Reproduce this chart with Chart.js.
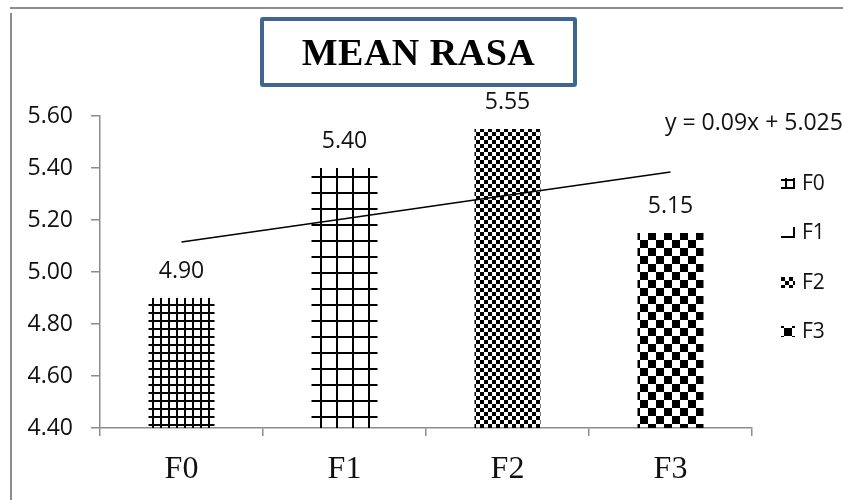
<!DOCTYPE html>
<html>
<head>
<meta charset="utf-8">
<title>MEAN RASA</title>
<script src="https://cdn.jsdelivr.net/npm/chart.js@4.4.1/dist/chart.umd.min.js"></script>
<style>
    body { margin: 0; background: #fff; }
    #wrap { position: relative; width: 843px; height: 500px; overflow: hidden; }
    #frame-top { position: absolute; left: 10px; top: 7px; width: 840px; height: 0; border-top: 2px solid #8c8c8c; }
    #frame-left { position: absolute; left: 10px; top: 13px; width: 0; height: 500px; border-left: 2px solid #8c8c8c; }
    #title-box {
        position: absolute; left: 260px; top: 17px; width: 309px; height: 62px;
        border: 4px solid #41658f; border-radius: 3px;
        display: flex; align-items: center; justify-content: center;
        font: bold 38px "Liberation Serif", serif; color: #000; letter-spacing: 0.5px;
    }
</style>
</head>
<body>
<div id="wrap">
    <div id="frame-top"></div>
    <div id="frame-left"></div>
    <canvas id="rasaChart" width="843" height="500"></canvas>
    <div id="title-box">MEAN RASA</div>
</div>
<script>
// ===== Chart Data =====
const categories = ['F0', 'F1', 'F2', 'F3'];
const meanValues = [4.90, 5.40, 5.55, 5.15];
const trendValues = [5.115, 5.205, 5.295, 5.385];
const trendLabel = 'y = 0.09x + 5.025';
const yTicks = [4.40, 4.60, 4.80, 5.00, 5.20, 5.40, 5.60];

const sansFont = '"Open Sans", "DejaVu Sans", sans-serif';
const serifFont = '"Liberation Serif", serif';
const patternKinds = ['smallGrid', 'largeGrid', 'smallChecker', 'largeChecker'];

// ===== Fill Patterns =====
function makePattern(kind) {
    const tile = document.createElement('canvas');
    const size = (kind === 'smallGrid' || kind === 'smallChecker') ? 8 : 16;
    tile.width = size;
    tile.height = size;
    const c = tile.getContext('2d');
    c.fillStyle = '#000';
    if (kind === 'smallGrid' || kind === 'largeGrid') {
        c.fillRect(0, 0, size, 2);
        c.fillRect(0, 0, 2, size);
    } else {
        const half = size / 2;
        c.fillRect(0, 0, half, half);
        c.fillRect(half, half, half, half);
    }
    return c.createPattern(tile, 'repeat');
}

const patterns = patternKinds.map(makePattern);
// separate copies for the legend swatches so they can be shifted
const swatches = patternKinds.map(makePattern);
const swatchShift = [[4, 1], [12, 9], [0, 0], [3, 2]];

// ===== Value Labels + Trend Label + Legend =====
const annotatePlugin = {
    id: 'annotate',
    afterDatasetsDraw(chart) {
        const ctx = chart.ctx;
        const area = chart.chartArea;
        const bars = chart.getDatasetMeta(1).data;

        ctx.save();
        ctx.fillStyle = '#111';
        ctx.font = '23px ' + sansFont;
        ctx.textAlign = 'center';
        ctx.textBaseline = 'middle';
        bars.forEach(function(bar, i) {
            ctx.fillText(meanValues[i].toFixed(2), bar.x, bar.y - 27);
        });

        // trendline equation
        ctx.font = '23px ' + sansFont;
        ctx.textAlign = 'left';
        ctx.fillText(trendLabel, area.right - 87, area.top + 7);

        // legend
        ctx.font = '21px ' + sansFont;
        const legendX = area.right + 29;
        const legendY = 183;
        categories.forEach(function(name, i) {
            const y = legendY + i * 49.3;
            const top = Math.round(y - 5);
            swatches[i].setTransform(new DOMMatrix().translate(legendX + swatchShift[i][0], top + swatchShift[i][1]));
            ctx.fillStyle = swatches[i];
            ctx.fillRect(legendX, top, 14, 11);
            ctx.fillStyle = '#111';
            ctx.fillText(name, legendX + 21, y + 1);
        });
        ctx.restore();
    }
};

// ===== Initialize Chart =====
document.addEventListener('DOMContentLoaded', function() {
    const ctx = document.getElementById('rasaChart').getContext('2d');

    new Chart(ctx, {
        type: 'bar',
        data: {
            labels: categories,
            datasets: [
                {
                    type: 'line',
                    label: 'Linear',
                    data: trendValues,
                    borderColor: '#000',
                    borderWidth: 1.5,
                    pointRadius: 0,
                    tension: 0,
                    fill: false,
                    order: 1
                },
                {
                    label: 'Mean rasa',
                    data: meanValues,
                    backgroundColor: patterns,
                    borderWidth: 0,
                    barPercentage: 0.405,
                    categoryPercentage: 1,
                    order: 2
                }
            ]
        },
        options: {
            responsive: false,
            animation: false,
            layout: {
                padding: { top: 116, right: 91, left: 0, bottom: 0 }
            },
            plugins: {
                legend: { display: false },
                title: { display: false },
                tooltip: { enabled: false }
            },
            scales: {
                y: {
                    min: 4.4,
                    max: 5.6,
                    afterFit: function(scale) { scale.width = 100; },
                    afterBuildTicks: function(scale) {
                        scale.ticks = yTicks.map(function(v) { return { value: v }; });
                    },
                    border: { color: '#8c8c8c', width: 1.5 },
                    grid: {
                        drawOnChartArea: false,
                        tickLength: 9,
                        color: '#8c8c8c',
                        lineWidth: 1.5
                    },
                    ticks: {
                        padding: 18,
                        color: '#111',
                        font: { family: sansFont, size: 23 },
                        callback: function(v) { return Number(v).toFixed(2); }
                    }
                },
                x: {
                    afterFit: function(scale) { scale.height = 72; },
                    border: { color: '#8c8c8c', width: 1.5 },
                    grid: {
                        drawOnChartArea: false,
                        tickLength: 8,
                        color: '#8c8c8c',
                        lineWidth: 1.5
                    },
                    ticks: {
                        padding: 14,
                        color: '#111',
                        font: { family: serifFont, size: 32 }
                    }
                }
            }
        },
        plugins: [annotatePlugin]
    });
});
</script>
</body>
</html>
